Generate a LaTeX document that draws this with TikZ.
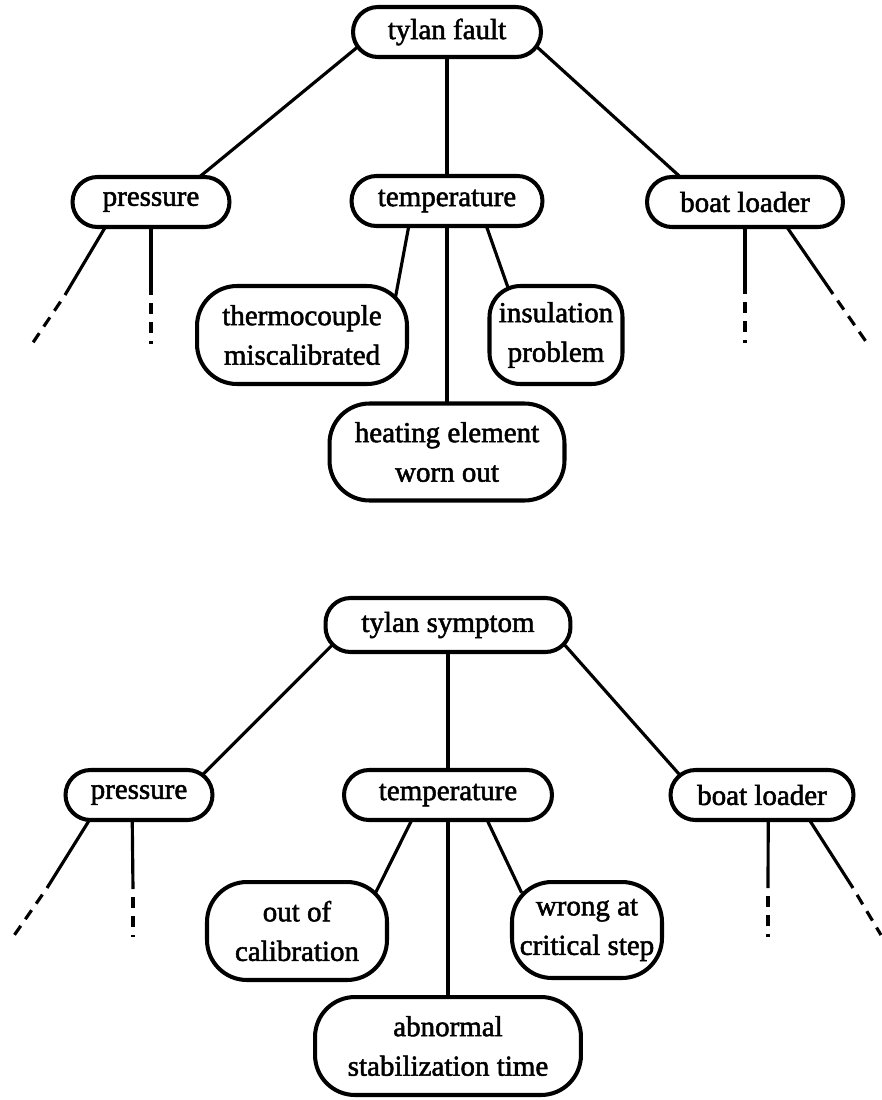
\documentclass[tikz,border=0pt]{standalone}
\usepackage{fontspec}
\setmainfont{Liberation Serif}[BoldFont=Liberation Serif, BoldFeatures={FakeBold=1.8}]
\usetikzlibrary{positioning, backgrounds}

\begin{document}
\begin{tikzpicture}[x=0.02cm, y=-0.02cm,
	every node/.style={draw, rectangle, fill=white, line width=2.3pt, align=center, inner sep=1pt,
		font=\fontsize{16.5}{22.5}\selectfont\bfseries},
	one/.style={minimum height=1cm, rounded corners=0.5cm},
	two/.style={minimum height=1.96cm, rounded corners=0.8cm},
	link/.style={line width=1.8pt, shorten <=-8pt, shorten >=-8pt},
	stub/.style={line width=1.8pt, shorten <=-8pt},
	tail/.style={line width=1.8pt, dash pattern=on 0.22cm off 0.16cm, dash phase=0.22cm}
]
	\useasboundingbox (0,0) rectangle (882,1100);

	% fault tree
	\node (fault) [one, minimum width=3.76cm] at (447,32) {tylan fault};
	\node (fPressure) [one, minimum width=3.14cm] at (151,202) {pressure};
	\node (fTemp) [one, minimum width=3.82cm] at (447,201) {temperature};
	\node (fBoat) [one, minimum width=3.92cm] at (745,202) {boat loader};
	\node (thermo) [two, minimum width=4.2cm] at (302,335) {thermocouple\\miscalibrated};
	\node (insul) [two, minimum width=2.66cm, rounded corners=0.62cm] at (556,335) {insulation\\problem};
	\node (heat) [two, minimum width=4.7cm, minimum height=1.94cm] at (447,452) {heating element\\worn out};

	\coordinate (fpA) at (65,295);
	\coordinate (fpAend) at (32,344);
	\coordinate (fpB) at (151,295);
	\coordinate (fpBend) at (151,344);
	\coordinate (fbA) at (745,294);
	\coordinate (fbAend) at (745,343);
	\coordinate (fbB) at (833,294);
	\coordinate (fbBend) at (867,343);

	% symptom tree
	\node (symptom) [one, minimum width=4.9cm, minimum height=1.08cm] at (448,625) {tylan symptom};
	\node (sPressure) [one, minimum width=2.94cm] at (139,795) {pressure};
	\node (sTemp) [one, minimum width=4.16cm] at (448,795) {temperature};
	\node (sBoat) [one, minimum width=3.66cm] at (762,795) {boat loader};
	\node (outCal) [two, minimum width=3.6cm] at (297,931) {out of\\calibration};
	\node (wrongStep) [two, minimum width=3cm, minimum height=1.92cm] at (587,930) {wrong at\\critical step};
	\node (abnormal) [two, minimum width=5.32cm] at (448,1046) {abnormal\\stabilization time};

	\coordinate (spA) at (47,888);
	\coordinate (spAend) at (13,937);
	\coordinate (spB) at (133,889);
	\coordinate (spBend) at (133,937);
	\coordinate (sbA) at (768,888);
	\coordinate (sbAend) at (768,937);
	\coordinate (sbB) at (853,888);
	\coordinate (sbBend) at (881,935);

	\begin{scope}[on background layer]
		\draw [link] (fault.192) -- (fPressure.28);
		\draw [link] (fault.south) -- (fTemp.north);
		\draw [link] (fault.348) -- (fBoat.158);
		\draw [link] (fTemp.215) -- (thermo.28);
		\draw [link] (fTemp.326) -- (insul.134);
		\draw [link] (fTemp.south) -- (heat.north);
		\draw [stub] (fPressure.210) -- (fpA);
		\draw [tail] (fpA) -- (fpAend);
		\draw [stub] (fPressure.south) -- (fpB);
		\draw [tail] (fpB) -- (fpBend);
		\draw [stub] (fBoat.south) -- (fbA);
		\draw [tail] (fbA) -- (fbAend);
		\draw [stub] (fBoat.328) -- (fbB);
		\draw [tail] (fbB) -- (fbBend);

		\draw [link] (symptom.193) -- (sPressure.21);
		\draw [link] (symptom.south) -- (sTemp.north);
		\draw [link] (symptom.347) -- (sBoat.163);
		\draw [link] (sTemp.216) -- (outCal.31);
		\draw [link] (sTemp.326) -- (wrongStep.145);
		\draw [link] (sTemp.south) -- (abnormal.north);
		\draw [stub] (sPressure.208) -- (spA);
		\draw [tail] (spA) -- (spAend);
		\draw [stub] (sPressure.256) -- (spB);
		\draw [tail] (spB) -- (spBend);
		\draw [stub] (sBoat.283.5) -- (sbA);
		\draw [tail] (sbA) -- (sbAend);
		\draw [stub] (sBoat.331) -- (sbB);
		\draw [tail] (sbB) -- (sbBend);
	\end{scope}
\end{tikzpicture}
\end{document}
